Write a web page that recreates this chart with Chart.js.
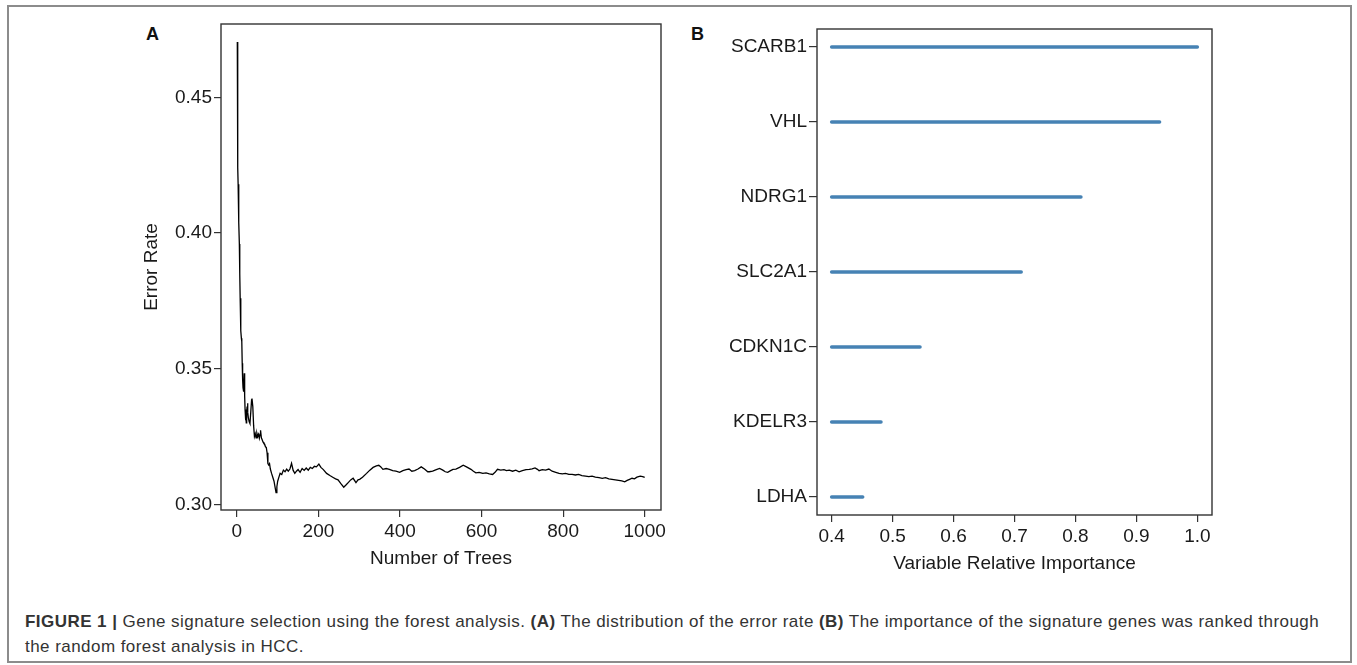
<!DOCTYPE html>
<html>
<head>
<title>Gene signature selection</title>
<script src="https://cdn.jsdelivr.net/npm/chart.js"></script>
<style>
    body { margin: 0; background: #fff; font-family: "Liberation Sans", Arial, sans-serif; }
    #frame {
        position: absolute; left: 7px; top: 5px; width: 1341px; height: 654px;
        border: 2px solid #8c8c8c;
    }
    .panel { position: absolute; }
    .tag { position: absolute; font-weight: bold; font-size: 18px; color: #111; }
    #caption {
        position: absolute; left: 25px; top: 609px; font-size: 17px; line-height: 25px;
        letter-spacing: 0.45px; color: #333; white-space: nowrap;
    }
</style>
</head>
<body>
<div id="frame"></div>
<div class="tag" style="left:146px; top:24px;">A</div>
<div class="tag" style="left:691px; top:24px;">B</div>
<div class="panel" style="left:130px; top:14px; width:540px; height:560px;">
    <canvas id="errChart"></canvas>
</div>
<div class="panel" style="left:690px; top:19px; width:532px; height:560px;">
    <canvas id="impChart"></canvas>
</div>
<div id="caption"><b>FIGURE 1 |</b> Gene signature selection using the forest analysis. <b>(A)</b> The distribution of the error rate <b>(B)</b> The importance of the signature genes was ranked through<br>the random forest analysis in HCC.</div>

<script>
// panel A: OOB error rate vs number of trees
var trees = [1, 2, 3, 4, 5, 6, 7, 8, 9, 10, 11, 12, 13, 14, 15, 16, 17, 18, 19, 20,
    21, 22, 23, 24, 25, 26, 27, 28, 30, 32, 34, 36, 37, 39, 41, 43, 45, 47, 49, 51,
    53, 55, 57, 58, 60, 62, 64, 66, 68, 70, 72, 74, 76, 78, 80, 82, 85, 88, 91, 94,
    96, 98, 100, 103, 106, 110, 114, 118, 122, 126, 130, 134, 138, 142, 146, 150, 155, 160, 165, 170,
    175, 180, 185, 190, 195, 201, 206, 212, 220, 228, 236, 242, 248, 255, 262, 268, 273, 279, 285, 292,
    297, 301, 308, 318, 326, 334, 342, 348, 353, 358, 366, 374, 382, 390, 399, 407, 415, 422, 429, 436,
    444, 452, 460, 468, 472, 480, 489, 497, 505, 511, 517, 524, 530, 537, 546, 555, 563, 574, 580, 586,
    594, 603, 611, 619, 627, 633, 639, 647, 655, 661, 668, 676, 684, 692, 700, 709, 717, 724, 731, 737,
    741, 749, 757, 765, 773, 782, 790, 798, 806, 814, 822, 830, 838, 846, 855, 863, 871, 879, 888, 896,
    904, 912, 920, 928, 936, 944, 951, 957, 963, 969, 975, 981, 989, 995, 1000];
var errorRate = [0.4705, 0.4242, 0.4180, 0.4105, 0.4040, 0.3960, 0.3850, 0.3760, 0.3690, 0.3640,
    0.3612, 0.3600, 0.3520, 0.3460, 0.3430, 0.3415, 0.3440, 0.3483, 0.3400, 0.3350,
    0.3310, 0.3330, 0.3300, 0.3340, 0.3360, 0.3373, 0.3340, 0.3320, 0.3305, 0.3298,
    0.3340, 0.3385, 0.3390, 0.3360, 0.3290, 0.3250, 0.3260, 0.3245, 0.3262, 0.3250,
    0.3258, 0.3244, 0.3260, 0.3273, 0.3245, 0.3238, 0.3230, 0.3225, 0.3222, 0.3212,
    0.3210, 0.3190, 0.3150, 0.3145, 0.3150, 0.3130, 0.3114, 0.3100, 0.3085, 0.3060,
    0.3043, 0.3065, 0.3085, 0.3100, 0.3114, 0.3110, 0.3126, 0.3120, 0.3130, 0.3122,
    0.3130, 0.3151, 0.3125, 0.3114, 0.3122, 0.3128, 0.3118, 0.3132, 0.3125, 0.3134,
    0.3126, 0.3136, 0.3132, 0.3140, 0.3138, 0.3148, 0.3136, 0.3128, 0.3114, 0.3106,
    0.3099, 0.3094, 0.3090, 0.3076, 0.3063, 0.3072, 0.3080, 0.3090, 0.3096, 0.3080,
    0.3090, 0.3092, 0.3100, 0.3114, 0.3126, 0.3136, 0.3142, 0.3144, 0.3138, 0.3129,
    0.3132, 0.3129, 0.3124, 0.3122, 0.3118, 0.3124, 0.3128, 0.3130, 0.3122, 0.3124,
    0.3130, 0.3138, 0.3130, 0.3120, 0.3120, 0.3122, 0.3128, 0.3132, 0.3126, 0.3120,
    0.3118, 0.3124, 0.3129, 0.3130, 0.3136, 0.3144, 0.3138, 0.3129, 0.3122, 0.3116,
    0.3118, 0.3114, 0.3116, 0.3112, 0.3110, 0.3118, 0.3129, 0.3126, 0.3128, 0.3124,
    0.3126, 0.3122, 0.3126, 0.3120, 0.3124, 0.3128, 0.3129, 0.3131, 0.3134, 0.3129,
    0.3124, 0.3128, 0.3126, 0.3130, 0.3122, 0.3118, 0.3114, 0.3112, 0.3114, 0.3110,
    0.3110, 0.3108, 0.3110, 0.3106, 0.3104, 0.3102, 0.3104, 0.3100, 0.3098, 0.3096,
    0.3098, 0.3094, 0.3092, 0.3090, 0.3088, 0.3086, 0.3083, 0.3088, 0.3092, 0.3096,
    0.3094, 0.3100, 0.3104, 0.3102, 0.3099];
var errTicks = [0, 200, 400, 600, 800, 1000];

// panel B: variable relative importance
var genes = ['SCARB1', 'VHL', 'NDRG1', 'SLC2A1', 'CDKN1C', 'KDELR3', 'LDHA'];
var importance = [1.0, 0.938, 0.809, 0.711, 0.545, 0.481, 0.451];
var importanceBase = 0.4;

Chart.defaults.font.family = '"Liberation Sans", Arial, sans-serif';
Chart.defaults.color = '#1a1a1a';

// R style box around the plotting region
var boxPlugin = {
    id: 'box',
    afterDraw: function(chart) {
        var a = chart.chartArea, c = chart.ctx;
        c.save();
        c.strokeStyle = '#333';
        c.lineWidth = 1.4;
        c.strokeRect(a.left, a.top, a.right - a.left, a.bottom - a.top);
        c.restore();
    }
};

function tickGrid(len) {
    return { drawOnChartArea: false, drawTicks: true, tickLength: len, color: '#333', lineWidth: 1.2 };
}
// fixed axis sizes, no extra room for overhanging labels
function fixX(h) { return function(s) { s.height = h; s.paddingLeft = 0; s.paddingRight = 0; }; }
function fixY(w) { return function(s) { s.width = w; s.paddingTop = 0; s.paddingBottom = 0; }; }

new Chart(document.getElementById('errChart'), {
    type: 'line',
    data: {
        datasets: [{
            data: trees.map(function(t, i) { return { x: t, y: errorRate[i] }; }),
            borderColor: '#000',
            borderWidth: 1.3,
            pointRadius: 0,
            tension: 0
        }]
    },
    options: {
        responsive: true,
        maintainAspectRatio: false,
        animation: false,
        layout: { padding: { top: 10, right: 9, left: 0, bottom: 0 } },
        plugins: { legend: { display: false }, tooltip: { enabled: false } },
        scales: {
            x: {
                type: 'linear',
                min: -39, max: 1040,
                border: { display: false },
                grid: tickGrid(7),
                afterFit: fixX(64),
                afterBuildTicks: function(s) { s.ticks = errTicks.map(function(v) { return { value: v }; }); },
                ticks: { font: { size: 19 }, padding: 3, maxRotation: 0,
                    callback: function(v) { return String(v); } },
                title: { display: true, text: 'Number of Trees', font: { size: 19 }, padding: { top: 0, bottom: 4 } }
            },
            y: {
                min: 0.2979, max: 0.4771,
                border: { display: false },
                grid: tickGrid(7),
                afterFit: fixY(91),
                ticks: { stepSize: 0.05, includeBounds: false, font: { size: 19 }, padding: 2,
                    callback: function(v) { return v.toFixed(2); } },
                title: { display: true, text: 'Error Rate', font: { size: 19 }, padding: { top: 10, bottom: 0 } }
            }
        }
    },
    plugins: [boxPlugin]
});

// one short segment per gene, from the base value to its importance
var segments = genes.map(function(g, i) {
    return {
        data: [{ x: importanceBase, y: i + 1 }, { x: importance[i], y: i + 1 }],
        borderColor: '#4682b4',
        borderWidth: 3.5,
        borderCapStyle: 'round',
        pointRadius: 0,
        showLine: true
    };
});

new Chart(document.getElementById('impChart'), {
    type: 'scatter',
    data: { datasets: segments },
    options: {
        responsive: true,
        maintainAspectRatio: false,
        animation: false,
        layout: { padding: { top: 10, right: 10, left: 0, bottom: 0 } },
        plugins: { legend: { display: false }, tooltip: { enabled: false } },
        scales: {
            x: {
                type: 'linear',
                min: 0.376, max: 1.024,
                border: { display: false },
                grid: tickGrid(7),
                afterFit: fixX(64),
                ticks: { stepSize: 0.1, includeBounds: false, font: { size: 19 }, padding: 3, maxRotation: 0,
                    callback: function(v) { return v.toFixed(1); } },
                title: { display: true, text: 'Variable Relative Importance', font: { size: 19 }, padding: { top: 0, bottom: 4 } }
            },
            y: {
                type: 'linear',
                min: 0.76, max: 7.24,
                reverse: true,
                border: { display: false },
                grid: tickGrid(8),
                afterFit: fixY(127),
                afterBuildTicks: function(s) { s.ticks = genes.map(function(g, i) { return { value: i + 1 }; }); },
                ticks: { font: { size: 19 }, padding: 2,
                    callback: function(v) { return genes[Math.round(v) - 1]; } }
            }
        }
    },
    plugins: [boxPlugin]
});
</script>
</body>
</html>
